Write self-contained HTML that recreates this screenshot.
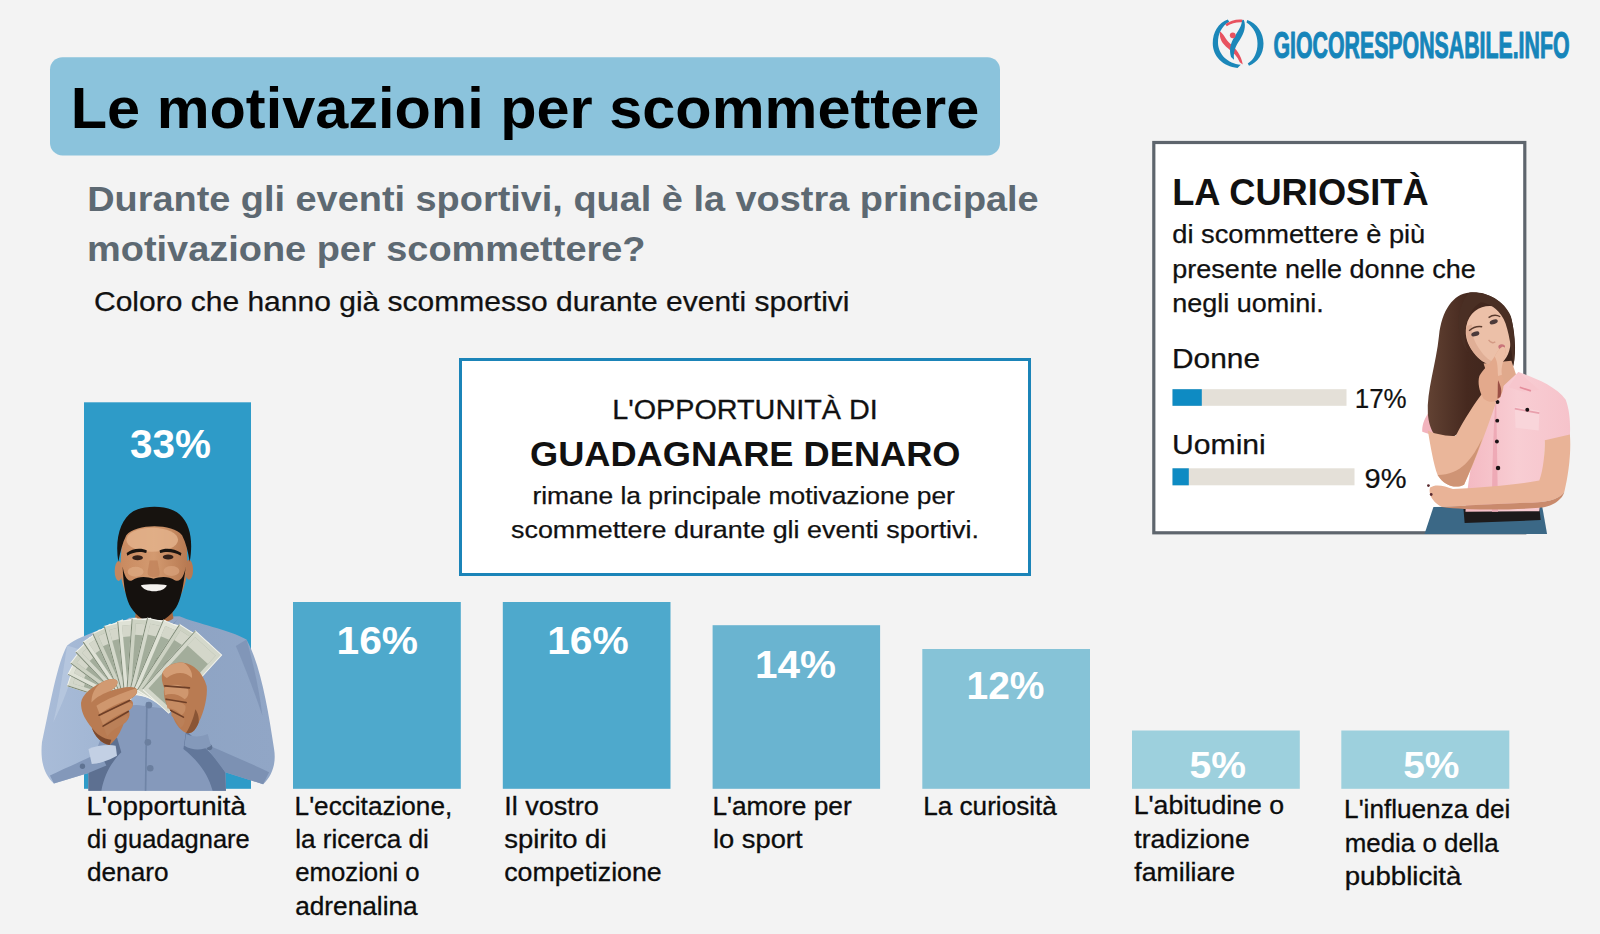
<!DOCTYPE html>
<html lang="it">
<head>
<meta charset="utf-8">
<title>Le motivazioni per scommettere</title>
<style>
html,body{margin:0;padding:0;background:#f3f3f3;}
body{width:1600px;height:934px;overflow:hidden;position:relative;font-family:"Liberation Sans",sans-serif;}
svg{position:absolute;left:0;top:0;display:block;}
text{font-family:"Liberation Sans",sans-serif;}
.b{font-weight:700;}
.lbl{font-size:25.3px;fill:#0c0c0c;stroke:#0c0c0c;stroke-width:0.3px;}
.pct{font-weight:700;fill:#fff;}
</style>
</head>
<body>
<svg width="1600" height="934" viewBox="0 0 1600 934">
<rect x="0" y="0" width="1600" height="934" fill="#f3f3f3"/>

<!-- TITLE -->
<g id="title">
<rect x="50" y="57.2" width="950" height="98.3" rx="12.5" ry="12.5" fill="#8bc3dc"/>
<text class="b" x="70.8" y="128" font-size="57" fill="#000" textLength="908.5" lengthAdjust="spacingAndGlyphs">Le motivazioni per scommettere</text>
</g>

<!-- SUBTITLE -->
<g id="subtitle" fill="#5d6972">
<text class="b" x="87.2" y="210.6" font-size="35.3" textLength="951.5" lengthAdjust="spacingAndGlyphs">Durante gli eventi sportivi, qual è la vostra principale</text>
<text class="b" x="87" y="261" font-size="35.3" textLength="558.5" lengthAdjust="spacingAndGlyphs">motivazione per scommettere?</text>
</g>
<text x="94" y="311.2" font-size="28" fill="#111" stroke="#111" stroke-width="0.25" textLength="755.5" lengthAdjust="spacingAndGlyphs">Coloro che hanno già scommesso durante eventi sportivi</text>

<!-- CENTER BOX -->
<g id="centerbox">
<rect x="460.5" y="359.5" width="569" height="215" fill="#fff" stroke="#1b84b8" stroke-width="3"/>
<text x="612.2" y="418.8" font-size="27" fill="#111" stroke="#111" stroke-width="0.3" textLength="265.5" lengthAdjust="spacingAndGlyphs">L'OPPORTUNITÀ DI</text>
<text class="b" x="530" y="465.8" font-size="35.2" fill="#111" textLength="430.5" lengthAdjust="spacingAndGlyphs">GUADAGNARE DENARO</text>
<text x="532.4" y="503.7" font-size="24.8" fill="#111" stroke="#111" stroke-width="0.25" textLength="422.5" lengthAdjust="spacingAndGlyphs">rimane la principale motivazione per</text>
<text x="511" y="537.5" font-size="24.8" fill="#111" stroke="#111" stroke-width="0.25" textLength="468" lengthAdjust="spacingAndGlyphs">scommettere durante gli eventi sportivi.</text>
</g>

<!-- BARS -->
<g id="bars">
<rect x="84" y="402.3" width="167" height="386.5" fill="#2e9bc8"/>
<rect x="293" y="602" width="167.8" height="186.8" fill="#4ea9cc"/>
<rect x="502.8" y="602" width="167.7" height="186.8" fill="#4ea9cc"/>
<rect x="712.6" y="625.2" width="167.5" height="163.6" fill="#6ab4d0"/>
<rect x="922.3" y="649" width="167.7" height="139.8" fill="#86c3d7"/>
<rect x="1132" y="730.5" width="167.8" height="58.3" fill="#9dd0dd"/>
<rect x="1341.3" y="730.5" width="168" height="58.3" fill="#9dd0dd"/>
</g>
<g id="pcts">
<text class="pct" x="130" y="458.2" font-size="40.3" textLength="81" lengthAdjust="spacingAndGlyphs">33%</text>
<text class="pct" x="336.5" y="654.2" font-size="38.4" textLength="81.5" lengthAdjust="spacingAndGlyphs">16%</text>
<text class="pct" x="547.2" y="654.2" font-size="38.4" textLength="81.5" lengthAdjust="spacingAndGlyphs">16%</text>
<text class="pct" x="755" y="677.5" font-size="38.4" textLength="81" lengthAdjust="spacingAndGlyphs">14%</text>
<text class="pct" x="966.5" y="698.7" font-size="38.4" textLength="78" lengthAdjust="spacingAndGlyphs">12%</text>
<text class="pct" x="1189.4" y="777.5" font-size="37.3" textLength="56.5" lengthAdjust="spacingAndGlyphs">5%</text>
<text class="pct" x="1403.2" y="777.5" font-size="37.3" textLength="56.3" lengthAdjust="spacingAndGlyphs">5%</text>
</g>

<!-- LABELS -->
<g id="labels" class="lbl">
<text x="86.4" y="814.5" textLength="159.5" lengthAdjust="spacingAndGlyphs">L'opportunità</text>
<text x="87.0" y="847.8" textLength="162.7" lengthAdjust="spacingAndGlyphs">di guadagnare</text>
<text x="87.0" y="881.2" textLength="81.5" lengthAdjust="spacingAndGlyphs">denaro</text>

<text x="294.6" y="814.5" textLength="157.6" lengthAdjust="spacingAndGlyphs">L'eccitazione,</text>
<text x="295.2" y="847.8" textLength="133.7" lengthAdjust="spacingAndGlyphs">la ricerca di</text>
<text x="295.2" y="881.2" textLength="124.5" lengthAdjust="spacingAndGlyphs">emozioni o</text>
<text x="295.2" y="915" textLength="122.5" lengthAdjust="spacingAndGlyphs">adrenalina</text>

<text x="504.2" y="814.5" textLength="94.7" lengthAdjust="spacingAndGlyphs">Il vostro</text>
<text x="504.2" y="847.8" textLength="102.3" lengthAdjust="spacingAndGlyphs">spirito di</text>
<text x="504.2" y="881.2" textLength="157.5" lengthAdjust="spacingAndGlyphs">competizione</text>

<text x="712.4" y="814.5" textLength="139.3" lengthAdjust="spacingAndGlyphs">L'amore per</text>
<text x="713.0" y="847.8" textLength="89.5" lengthAdjust="spacingAndGlyphs">lo sport</text>

<text x="923.2" y="814.5" textLength="133.7" lengthAdjust="spacingAndGlyphs">La curiosità</text>

<text x="1133.7" y="814.3" textLength="150.3" lengthAdjust="spacingAndGlyphs">L'abitudine o</text>
<text x="1134.3" y="847.8" textLength="115.4" lengthAdjust="spacingAndGlyphs">tradizione</text>
<text x="1134.3" y="881.2" textLength="100.7" lengthAdjust="spacingAndGlyphs">familiare</text>

<text x="1344.1" y="818.3" textLength="166.3" lengthAdjust="spacingAndGlyphs">L'influenza dei</text>
<text x="1344.7" y="852" textLength="154.0" lengthAdjust="spacingAndGlyphs">media o della</text>
<text x="1344.7" y="885.3" textLength="116.7" lengthAdjust="spacingAndGlyphs">pubblicità</text>
</g>

<!-- RIGHT BOX -->
<g id="rightbox">
<rect x="1153.8" y="142.5" width="371" height="390.3" fill="#fff" stroke="#5e656d" stroke-width="3.2"/>
<text class="b" x="1172.2" y="204.5" font-size="36" fill="#111" textLength="256.5" lengthAdjust="spacingAndGlyphs">LA CURIOSITÀ</text>
<text x="1172.3" y="243.2" font-size="25.3" fill="#111" stroke="#111" stroke-width="0.25" textLength="253" lengthAdjust="spacingAndGlyphs">di scommettere è più</text>
<text x="1172.3" y="277.5" font-size="25.3" fill="#111" stroke="#111" stroke-width="0.25" textLength="303.5" lengthAdjust="spacingAndGlyphs">presente nelle donne che</text>
<text x="1172.3" y="311.7" font-size="25.3" fill="#111" stroke="#111" stroke-width="0.25" textLength="151.5" lengthAdjust="spacingAndGlyphs">negli uomini.</text>
<text x="1172" y="367.5" font-size="27.5" fill="#111" stroke="#111" stroke-width="0.25" textLength="88" lengthAdjust="spacingAndGlyphs">Donne</text>
<rect x="1172.5" y="389.2" width="174" height="16.6" fill="#e4e0d8"/>
<rect x="1172.5" y="389.2" width="29.3" height="16.6" fill="#0e8bc3"/>
<text x="1354.7" y="408" font-size="27" fill="#111" stroke="#111" stroke-width="0.2" textLength="52" lengthAdjust="spacingAndGlyphs">17%</text>
<text x="1172" y="454.2" font-size="27.5" fill="#111" stroke="#111" stroke-width="0.25" textLength="93.8" lengthAdjust="spacingAndGlyphs">Uomini</text>
<rect x="1172.5" y="468.3" width="182" height="17" fill="#e4e0d8"/>
<rect x="1172.5" y="468.3" width="16.3" height="17" fill="#0e8bc3"/>
<text x="1364.5" y="487.5" font-size="27" fill="#111" stroke="#111" stroke-width="0.2" textLength="42" lengthAdjust="spacingAndGlyphs">9%</text>
</g>

<!-- LOGO -->
<g id="logo">
<g transform="translate(1200,10) scale(0.125)" stroke="none">
<path d="M222 76 C148 104 102 176 102 266 C102 372 184 452 300 464 L326 438 C222 428 146 356 144 262 C143 190 174 128 234 94 Z" fill="#1b87b9"/>
<path d="M378 80 C456 108 508 180 508 268 C508 352 462 418 392 446 L382 428 C434 396 460 336 460 268 C460 196 428 136 372 100 Z" fill="#1b87b9"/>
<path d="M203 114 C240 86 292 72 342 78 L336 98 C290 96 250 106 214 130 Z" fill="#e8525f"/>
<path d="M160 172 C190 190 200 230 240 268 C290 312 330 360 342 436 L318 418 C300 372 268 342 226 308 C178 268 152 232 160 172 Z" fill="#e8525f"/>
<path d="M350 78 C372 130 352 190 318 240 C284 290 266 330 272 398 L248 376 C232 318 242 268 276 214 C310 160 334 126 336 84 Z" fill="#1b87b9"/>
<circle cx="262" cy="202" r="23" fill="#e8525f"/>
</g>
<text class="b" x="1273.5" y="58.1" font-size="36.2" fill="#1685ba" stroke="#1685ba" stroke-width="1.1" stroke-linejoin="round" textLength="296" lengthAdjust="spacingAndGlyphs">GIOCORESPONSABILE.INFO</text>
</g>

<!-- MAN -->
<g id="man">
<g transform="translate(30,490) scale(0.33206)">
<defs>
<linearGradient id="shirtG" x1="0" y1="0" x2="1" y2="0">
<stop offset="0" stop-color="#a9bcd8"/><stop offset="0.35" stop-color="#9fb4d2"/><stop offset="0.6" stop-color="#8ea4c4"/><stop offset="1" stop-color="#91a6c6"/>
</linearGradient>
<linearGradient id="skinG" x1="0" y1="0" x2="1" y2="0">
<stop offset="0" stop-color="#c98a60"/><stop offset="0.5" stop-color="#d39a70"/><stop offset="1" stop-color="#b87a52"/>
</linearGradient>
<radialGradient id="fanG" cx="0.45" cy="1" r="1">
<stop offset="0" stop-color="#9aa591"/><stop offset="0.6" stop-color="#c3c9b8"/><stop offset="1" stop-color="#dcdfd2"/>
</radialGradient>
</defs>
<!-- shirt silhouette -->
<path d="M300 385 C250 412 165 430 112 468 C82 520 60 650 36 760 C30 820 44 858 72 884 L176 852 L176 906 L590 906 L588 850 L702 886 C730 860 742 822 735 780 C716 650 692 522 652 450 C600 420 500 402 450 380 Z" fill="url(#shirtG)"/>
<!-- torso shading -->
<path d="M230 700 C260 660 300 640 340 650 L420 660 C460 700 480 740 500 760 L588 850 L590 906 L176 906 L176 852 Z" fill="#8599bb"/>
<path d="M176 852 C196 810 215 780 262 745 L275 790 C250 815 225 850 215 906 L176 906 Z" fill="#5d7091"/>
<path d="M588 850 C560 800 520 770 470 725 L462 780 C500 810 535 850 550 906 L590 906 Z" fill="#62779a"/>
<!-- right sleeve folds -->
<path d="M652 450 C672 520 690 600 700 680 C680 620 650 540 620 470 Z" fill="#7b90b2" opacity="0.7"/>
<path d="M112 468 C100 540 90 620 70 700 C100 640 130 560 150 480 Z" fill="#b9c9e0" opacity="0.8"/>
<path d="M520 760 C580 790 660 820 720 850 L702 886 L588 850 Z" fill="#7c91b3"/>
<path d="M60 860 C100 840 150 820 210 790 L230 830 L176 852 L72 884 Z" fill="#8398ba"/>
<!-- placket + buttons -->
<path d="M352 640 L348 906" stroke="#6f84a6" stroke-width="5" fill="none"/>
<circle cx="358" cy="648" r="10" fill="#6b7f9f"/><circle cx="355" cy="760" r="10" fill="#6b7f9f"/><circle cx="362" cy="838" r="10" fill="#6b7f9f"/>
<circle cx="158" cy="832" r="8" fill="#5f7392"/><circle cx="540" cy="775" r="9" fill="#5f7392"/>
<!-- collar -->
<path d="M300 385 C320 420 350 440 372 445 C400 440 430 415 450 380 C440 400 420 412 372 414 C330 412 310 400 300 385 Z" fill="#8196b8"/>
<!-- neck -->
<path d="M322 350 L426 350 L432 386 C410 406 340 406 316 386 Z" fill="#a8683f"/>
<!-- ears -->
<ellipse cx="267" cy="244" rx="12" ry="30" fill="#c58760"/><ellipse cx="479" cy="240" rx="12" ry="30" fill="#b87952"/>
<!-- face -->
<path d="M277 150 C277 80 468 80 472 150 L474 235 C472 300 440 365 372 394 C304 365 274 300 272 235 Z" fill="url(#skinG)"/>
<ellipse cx="368" cy="150" rx="78" ry="36" fill="#e3b18b" opacity="0.85"/>
<ellipse cx="318" cy="246" rx="24" ry="15" fill="#dca780" opacity="0.8"/><ellipse cx="426" cy="244" rx="24" ry="15" fill="#d7a079" opacity="0.8"/>
<!-- hair -->
<path d="M266 216 C255 150 271 88 311 64 C351 44 421 46 451 74 C485 104 491 160 481 216 C476 186 470 160 458 136 C430 100 320 100 290 136 C278 160 272 186 266 216 Z" fill="#17130f"/>
<!-- beard -->
<path d="M279 230 C281 292 290 332 304 354 C322 382 348 399 372 400 C396 399 422 382 440 354 C454 332 462 292 469 230 C465 258 454 280 436 272 C416 258 392 261 372 267 C352 261 328 258 308 272 C294 280 283 258 279 230 Z" fill="#15110e"/>
<!-- mouth / teeth -->
<path d="M334 287 C352 283 392 283 412 287 C404 311 344 311 334 287 Z" fill="#f4f1ee"/>
<!-- nose -->
<path d="M360 212 C357 238 350 250 358 258 C366 264 380 264 388 258 C394 250 388 238 384 212 Z" fill="#c08259" opacity="0.75"/>
<!-- eyes + brows -->
<ellipse cx="324" cy="204" rx="16" ry="7.5" fill="#33211a"/><ellipse cx="416" cy="202" rx="16" ry="7.5" fill="#33211a"/>
<path d="M291 190 C308 174 338 174 352 182 L350 190 C335 184 312 185 293 198 Z" fill="#1a1410"/>
<path d="M390 182 C404 174 434 174 456 190 L454 198 C434 185 409 184 392 190 Z" fill="#1a1410"/>
<!-- money fan -->
<g id="fan">
<g transform="translate(312.0,604.0) rotate(-72.0)"><rect x="-48.0" y="-194.0" width="96.0" height="194.0" fill="#d4d8cb" stroke="#f2f3ec" stroke-width="3"/><rect x="-36.0" y="-180.0" width="72.0" height="166.0" fill="#9aa693" opacity="0.85"/><rect x="-36.0" y="-180.0" width="72.0" height="34" fill="#d9dccf" opacity="0.9"/><ellipse cx="0" cy="-87.3" rx="25.0" ry="33.0" fill="#66775f" opacity="0.85"/><path d="M-48.0 -194.0 L-48.0 0" stroke="#7c8874" stroke-width="3"/></g>
<g transform="translate(312.5,604.2) rotate(-62.5)"><rect x="-48.0" y="-198.1" width="96.1" height="198.1" fill="#dfe2d6" stroke="#f2f3ec" stroke-width="3"/><rect x="-36.0" y="-184.1" width="72.1" height="170.1" fill="#9aa693" opacity="0.85"/><rect x="-36.0" y="-184.1" width="72.1" height="34" fill="#d9dccf" opacity="0.9"/><ellipse cx="0" cy="-89.2" rx="25.0" ry="33.7" fill="#66775f" opacity="0.85"/><path d="M-48.0 -198.1 L-48.0 0" stroke="#7c8874" stroke-width="3"/></g>
<g transform="translate(313.8,604.9) rotate(-53.0)"><rect x="-48.2" y="-202.9" width="96.3" height="202.9" fill="#cdd2c3" stroke="#f2f3ec" stroke-width="3"/><rect x="-36.2" y="-188.9" width="72.3" height="174.9" fill="#9aa693" opacity="0.85"/><rect x="-36.2" y="-188.9" width="72.3" height="34" fill="#d9dccf" opacity="0.9"/><ellipse cx="0" cy="-91.3" rx="25.0" ry="34.5" fill="#66775f" opacity="0.85"/><path d="M-48.2 -202.9 L-48.2 0" stroke="#7c8874" stroke-width="3"/></g>
<g transform="translate(316.1,606.0) rotate(-43.4)"><rect x="-48.3" y="-207.9" width="96.7" height="207.9" fill="#d4d8cb" stroke="#f2f3ec" stroke-width="3"/><rect x="-36.3" y="-193.9" width="72.7" height="179.9" fill="#9aa693" opacity="0.85"/><rect x="-36.3" y="-193.9" width="72.7" height="34" fill="#d9dccf" opacity="0.9"/><ellipse cx="0" cy="-93.5" rx="25.1" ry="35.3" fill="#66775f" opacity="0.85"/><path d="M-48.3 -207.9 L-48.3 0" stroke="#7c8874" stroke-width="3"/></g>
<g transform="translate(319.3,607.6) rotate(-33.9)"><rect x="-48.6" y="-212.7" width="97.2" height="212.7" fill="#dfe2d6" stroke="#f2f3ec" stroke-width="3"/><rect x="-36.6" y="-198.7" width="73.2" height="184.7" fill="#9aa693" opacity="0.85"/><rect x="-36.6" y="-198.7" width="73.2" height="34" fill="#d9dccf" opacity="0.9"/><ellipse cx="0" cy="-95.7" rx="25.3" ry="36.2" fill="#66775f" opacity="0.85"/><path d="M-48.6 -212.7 L-48.6 0" stroke="#7c8874" stroke-width="3"/></g>
<g transform="translate(323.5,609.6) rotate(-24.4)"><rect x="-49.0" y="-217.2" width="97.9" height="217.2" fill="#cdd2c3" stroke="#f2f3ec" stroke-width="3"/><rect x="-37.0" y="-203.2" width="73.9" height="189.2" fill="#9aa693" opacity="0.85"/><rect x="-37.0" y="-203.2" width="73.9" height="34" fill="#d9dccf" opacity="0.9"/><ellipse cx="0" cy="-97.7" rx="25.5" ry="36.9" fill="#66775f" opacity="0.85"/><path d="M-49.0 -217.2 L-49.0 0" stroke="#7c8874" stroke-width="3"/></g>
<g transform="translate(328.5,612.0) rotate(-14.9)"><rect x="-49.4" y="-221.2" width="98.8" height="221.2" fill="#d4d8cb" stroke="#f2f3ec" stroke-width="3"/><rect x="-37.4" y="-207.2" width="74.8" height="193.2" fill="#9aa693" opacity="0.85"/><rect x="-37.4" y="-207.2" width="74.8" height="34" fill="#d9dccf" opacity="0.9"/><ellipse cx="0" cy="-99.5" rx="25.7" ry="37.6" fill="#66775f" opacity="0.85"/><path d="M-49.4 -221.2 L-49.4 0" stroke="#7c8874" stroke-width="3"/></g>
<g transform="translate(334.5,614.9) rotate(-5.3)"><rect x="-49.9" y="-224.7" width="99.7" height="224.7" fill="#dfe2d6" stroke="#f2f3ec" stroke-width="3"/><rect x="-37.9" y="-210.7" width="75.7" height="196.7" fill="#9aa693" opacity="0.85"/><rect x="-37.9" y="-210.7" width="75.7" height="34" fill="#d9dccf" opacity="0.9"/><ellipse cx="0" cy="-101.1" rx="25.9" ry="38.2" fill="#66775f" opacity="0.85"/><path d="M-49.9 -224.7 L-49.9 0" stroke="#7c8874" stroke-width="3"/></g>
<g transform="translate(341.3,618.2) rotate(4.2)"><rect x="-50.4" y="-227.8" width="100.9" height="227.8" fill="#cdd2c3" stroke="#f2f3ec" stroke-width="3"/><rect x="-38.4" y="-213.8" width="76.9" height="199.8" fill="#9aa693" opacity="0.85"/><rect x="-38.4" y="-213.8" width="76.9" height="34" fill="#d9dccf" opacity="0.9"/><ellipse cx="0" cy="-102.5" rx="26.2" ry="38.7" fill="#66775f" opacity="0.85"/><path d="M-50.4 -227.8 L-50.4 0" stroke="#7c8874" stroke-width="3"/></g>
<g transform="translate(349.1,622.0) rotate(13.7)"><rect x="-51.1" y="-230.4" width="102.2" height="230.4" fill="#d4d8cb" stroke="#f2f3ec" stroke-width="3"/><rect x="-39.1" y="-216.4" width="78.2" height="202.4" fill="#9aa693" opacity="0.85"/><rect x="-39.1" y="-216.4" width="78.2" height="34" fill="#d9dccf" opacity="0.9"/><ellipse cx="0" cy="-103.7" rx="26.6" ry="39.2" fill="#66775f" opacity="0.85"/><path d="M-51.1 -230.4 L-51.1 0" stroke="#7c8874" stroke-width="3"/></g>
<g transform="translate(357.8,626.2) rotate(23.2)"><rect x="-51.8" y="-232.7" width="103.6" height="232.7" fill="#dfe2d6" stroke="#f2f3ec" stroke-width="3"/><rect x="-39.8" y="-218.7" width="79.6" height="204.7" fill="#9aa693" opacity="0.85"/><rect x="-39.8" y="-218.7" width="79.6" height="34" fill="#d9dccf" opacity="0.9"/><ellipse cx="0" cy="-104.7" rx="26.9" ry="39.6" fill="#66775f" opacity="0.85"/><path d="M-51.8 -232.7 L-51.8 0" stroke="#7c8874" stroke-width="3"/></g>
<g transform="translate(367.5,630.9) rotate(32.8)"><rect x="-52.6" y="-234.8" width="105.2" height="234.8" fill="#cdd2c3" stroke="#f2f3ec" stroke-width="3"/><rect x="-40.6" y="-220.8" width="81.2" height="206.8" fill="#9aa693" opacity="0.85"/><rect x="-40.6" y="-220.8" width="81.2" height="34" fill="#d9dccf" opacity="0.9"/><ellipse cx="0" cy="-105.7" rx="27.4" ry="39.9" fill="#66775f" opacity="0.85"/><path d="M-52.6 -234.8 L-52.6 0" stroke="#7c8874" stroke-width="3"/></g>
<g transform="translate(378.0,636.0) rotate(42.3)"><rect x="-53.5" y="-237.0" width="107.0" height="237.0" fill="#d4d8cb" stroke="#f2f3ec" stroke-width="3"/><rect x="-41.5" y="-223.0" width="83.0" height="209.0" fill="#9aa693" opacity="0.85"/><rect x="-41.5" y="-223.0" width="83.0" height="34" fill="#d9dccf" opacity="0.9"/><ellipse cx="0" cy="-106.7" rx="27.8" ry="40.3" fill="#66775f" opacity="0.85"/><path d="M-53.5 -237.0 L-53.5 0" stroke="#7c8874" stroke-width="3"/></g>
</g>
<!-- left hand -->
<path d="M154 650 C150 625 175 600 215 580 C235 568 255 566 262 574 C268 585 255 598 240 606 C270 596 300 590 318 596 C330 606 318 622 300 630 C316 636 312 654 296 664 C306 676 296 694 282 704 C272 730 262 750 240 768 C214 764 196 742 186 716 C168 694 156 674 154 650 Z" fill="#b97b52"/>
<path d="M215 580 C235 568 255 566 262 574 C268 585 255 598 240 606 C225 612 200 622 185 640 C185 615 195 595 215 580 Z" fill="#d19a72"/>
<path d="M200 650 C230 630 275 612 318 598 C328 606 318 622 300 630 C270 640 235 655 210 675 Z" fill="#cf976e"/>
<path d="M210 682 C240 662 270 650 298 640 C314 642 312 656 296 664 C270 674 240 690 220 708 Z" fill="#c68c63"/>
<path d="M222 714 C245 698 265 690 290 678 C300 684 294 696 282 704 C262 714 245 726 232 742 Z" fill="#bb8058"/>
<path d="M186 716 C200 735 220 750 245 752 L240 768 C214 764 196 742 186 716 Z" fill="#7d4a2e"/>
<path d="M208 678 L300 634 M220 711 L296 667" stroke="#6e3f27" stroke-width="5" fill="none" stroke-linecap="round"/>
<!-- right hand -->
<path d="M400 548 C412 528 440 516 462 520 C492 524 520 548 532 590 C536 620 524 670 508 700 C500 720 490 735 470 732 C448 722 432 696 426 668 C410 650 400 622 404 596 C398 580 394 562 400 548 Z" fill="#b97b52"/>
<path d="M400 548 C412 528 440 516 462 520 C480 530 490 548 488 566 C470 548 440 544 412 566 C404 562 400 556 400 548 Z" fill="#d49d75"/>
<path d="M404 596 C420 584 452 582 476 600 C480 615 474 626 466 630 C448 614 424 610 406 618 Z" fill="#cf976e"/>
<path d="M410 636 C430 628 452 634 468 650 C470 664 464 674 456 678 C444 664 428 656 414 658 Z" fill="#c68c63"/>
<path d="M426 668 C440 664 456 676 466 694 C464 708 458 714 452 716 C444 700 436 688 426 680 Z" fill="#bb8058"/>
<path d="M406 590 L480 596 M410 630 L470 640 M424 664 L462 684" stroke="#6e3f27" stroke-width="5" fill="none" stroke-linecap="round"/>
<path d="M508 700 C500 720 490 735 470 732 C480 715 492 690 498 660 C505 670 510 685 508 700 Z" fill="#8a5535"/>
<!-- cuffs -->
<path d="M176 780 C200 770 235 765 258 770 L262 800 C235 815 205 825 186 825 Z" fill="#c3d0e4"/>
<path d="M470 735 C490 745 515 745 535 735 L545 770 C520 785 490 785 465 770 Z" fill="#8499ba"/>
</g>
</g>
<!-- WOMAN -->
<g id="woman">
<g transform="translate(1400,280) scale(0.27855)">
<defs>
<linearGradient id="hairG" x1="0" y1="0" x2="1" y2="0">
<stop offset="0" stop-color="#624233"/><stop offset="0.45" stop-color="#46291f"/><stop offset="1" stop-color="#3a231b"/>
</linearGradient>
<linearGradient id="pinkG" x1="0" y1="0" x2="1" y2="0">
<stop offset="0" stop-color="#f4b9c2"/><stop offset="0.5" stop-color="#f8cdd3"/><stop offset="1" stop-color="#f6c3cb"/>
</linearGradient>
</defs>
<!-- left sleeve small (viewer left) -->
<path d="M100 480 C86 500 78 525 80 545 L125 560 L140 490 Z" fill="#f2b3bd"/>
<!-- hair back -->
<path d="M250 45 C190 50 150 110 140 200 C130 300 95 400 100 480 C105 540 130 575 160 575 C220 560 270 500 300 420 L400 330 C420 280 415 200 400 140 C380 80 320 40 250 45 Z" fill="url(#hairG)"/>
<!-- neck -->
<path d="M300 300 L400 290 L420 350 L340 420 Z" fill="#e0a98c"/>
<!-- jeans -->
<path d="M120 815 L510 810 L528 912 L88 912 Z" fill="#3b6886"/>
<!-- belt -->
<path d="M228 822 L500 815 L505 862 L232 872 Z" fill="#1d1a1b"/>
<!-- shirt -->
<path d="M425 330 C480 350 560 380 595 430 C610 470 612 520 610 560 L520 580 C520 650 510 740 500 830 L235 832 C240 760 250 690 262 640 C270 560 300 470 345 405 Z" fill="url(#pinkG)"/>
<path d="M345 405 L352 832 L330 832 C330 700 335 520 345 405 Z" fill="#eeaab6"/>
<!-- collar -->
<path d="M425 330 L500 395 L440 400 L390 385 Z" fill="#f7c6cd"/>
<path d="M430 385 L470 398" stroke="#e58d9c" stroke-width="6"/>
<!-- pocket -->
<path d="M412 455 L500 470 L498 540 L415 530 Z" fill="#f9d5da"/>
<path d="M412 462 L500 478" stroke="#e9a0ad" stroke-width="6"/>
<!-- buttons -->
<circle cx="350" cy="438" r="7" fill="#1a1214"/><circle cx="349" cy="505" r="7" fill="#1a1214"/><circle cx="348" cy="580" r="7" fill="#1a1214"/><circle cx="352" cy="675" r="8" fill="#1a1214"/><circle cx="457" cy="466" r="7" fill="#1a1214"/>
<!-- right arm (viewer right) -->
<path d="M520 575 L610 555 C615 620 605 700 590 760 C570 790 520 800 450 800 C350 805 230 810 150 815 C120 800 100 770 108 745 C130 730 160 740 190 750 C300 745 420 735 500 720 C515 680 520 620 520 575 Z" fill="#e9b397"/>
<path d="M150 815 C230 810 350 805 450 800 C520 800 570 790 590 760 C585 780 560 812 500 818 C400 825 250 828 150 815 Z" fill="#c98a6c"/>
<!-- left arm (viewer left) forearm up to chin -->
<path d="M100 540 C110 600 120 660 135 700 C160 740 200 750 230 735 C270 650 310 540 345 440 L300 400 C270 440 230 500 200 560 C170 560 130 555 100 540 Z" fill="#eab69a"/>
<path d="M135 700 C160 740 200 750 230 735 C250 690 275 630 295 570 C260 640 220 700 135 700 Z" fill="#cf9475"/>
<!-- face -->
<path d="M238 165 C250 105 305 82 352 98 C390 112 402 165 398 212 C398 252 384 288 358 302 C332 312 298 300 272 270 C246 240 230 205 238 165 Z" fill="#ecc0a8"/>
<path d="M238 165 C234 200 246 240 272 270 C298 300 332 312 358 302 C340 300 310 285 290 255 C268 225 255 195 258 160 Z" fill="#dba88e" opacity="0.7"/>
<!-- hair front strands -->
<path d="M250 45 C300 38 372 68 398 130 C410 175 416 240 408 310 C400 255 392 180 372 140 C350 100 318 84 290 80 C262 96 240 130 234 180 C230 215 236 240 246 262 C214 225 200 150 218 100 C226 75 238 55 250 45 Z" fill="#4a2f24"/>
<!-- eyes, brows, lips -->
<ellipse cx="270" cy="193" rx="15" ry="8" fill="#4b3a3a" transform="rotate(-18 272 192)"/>
<ellipse cx="337" cy="150" rx="15" ry="8" fill="#4b3a3a" transform="rotate(-18 338 152)"/>
<path d="M248 182 C262 170 280 165 295 168" stroke="#5a3b2e" stroke-width="5" fill="none"/>
<path d="M318 135 C332 125 348 125 360 132" stroke="#5a3b2e" stroke-width="5" fill="none"/>
<ellipse cx="365" cy="240" rx="12" ry="9" fill="#c9747a"/>
<path d="M318 215 C325 225 335 228 342 222" stroke="#d39a84" stroke-width="5" fill="none"/>
<!-- hand -->
<path d="M285 345 C295 325 320 305 340 275 C348 258 358 245 368 240 C380 240 382 255 376 270 C368 300 362 320 366 340 C376 362 374 392 360 420 C345 442 318 442 300 426 C284 400 278 368 285 345 Z" fill="#e3a98c"/>
<path d="M340 275 C348 258 358 245 368 240 C380 240 382 255 376 270 C368 300 362 320 366 340 L352 345 C350 320 352 295 340 275 Z" fill="#edbfa6"/>
<path d="M352 360 C362 380 368 400 360 420 L350 425 C352 400 350 380 352 360 Z" fill="#9a4f45"/>
<!-- nails on crossed hand -->
<circle cx="102" cy="738" r="5" fill="#5a2b30"/><circle cx="112" cy="770" r="5" fill="#5a2b30"/>
</g>
</g>
</svg>
</body>
</html>
